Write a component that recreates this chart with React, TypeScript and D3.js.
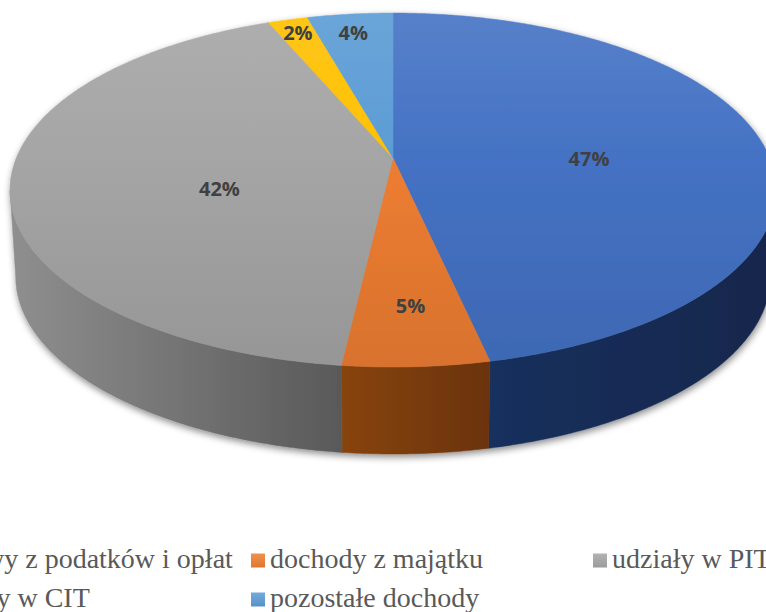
import React from "react";
import * as d3 from "d3";

// ---- data ----
const categories = [
  "wpływy z podatków i opłat",
  "dochody z majątku",
  "udziały w PIT",
  "udziały w CIT",
  "pozostałe dochody",
];
const values = [46.6, 5.2, 41.9, 2.0, 4.3];
const colors = ["#4472C4", "#ED7D31", "#A5A5A5", "#FFC000", "#5B9BD5"];
const sideColors = [
  ["#17305d", "#12274c"],
  ["#874410", "#6b330b"],
  ["#8f8f8f", "#595959"],
  ["#a07800", "#805f00"],
  ["#2f5f8c", "#264d73"],
];
// label placement: [fraction of slice angle, radius fraction]
const labelLayout = [
  [0.54, 0.52],
  [0.49, 0.75],
  [0.41, 0.48],
  [0.5, 0.89],
  [0.47, 0.85],
];

// ---- projection (perspective of a tilted disk) ----
const K = -0.1808;
const A = 376.7;
const P = 142.65;
const Q = 158;
const CX = 393;
const DEPTH = 87;
const SB = 0.985;

function proj(theta: number, r: number): [number, number] {
  const u = r * Math.sin(theta);
  const v = -r * Math.cos(theta);
  const w = 1 + K * v;
  return [CX + (A * u) / w, (P * v + Q) / w];
}
function projBottom(theta: number): [number, number] {
  const [x, y] = proj(theta, 1);
  return [CX + SB * (x - CX), y + DEPTH];
}

function sampleArc(a0: number, a1: number, f: (t: number) => [number, number]) {
  const n = Math.max(2, Math.ceil(Math.abs(a1 - a0) / 0.008));
  const pts: [number, number][] = [];
  for (let i = 0; i <= n; i++) pts.push(f(a0 + ((a1 - a0) * i) / n));
  return pts;
}

// silhouette angles
let thetaR = 0,
  thetaL = Math.PI;
{
  let maxX = -Infinity,
    minX = Infinity;
  for (let i = 0; i <= 20000; i++) {
    const t = (i / 20000) * 2 * Math.PI;
    const [x] = proj(t, 1);
    if (x > maxX) {
      maxX = x;
      thetaR = t;
    }
    if (x < minX) {
      minX = x;
      thetaL = t;
    }
  }
}

const line = d3.line();

export default function App() {
  const pie = d3
    .pie<number>()
    .sort(null)
    .startAngle(0)
    .endAngle(2 * Math.PI)
    .value((d) => d);
  const arcs = pie(values);
  const total = d3.sum(values);
  const fmt = d3.format(".0%");

  const walls = arcs
    .map((a, i) => {
      const lo = Math.max(a.startAngle, thetaR);
      const hi = Math.min(a.endAngle, thetaL);
      if (hi <= lo) return null;
      const topPts = sampleArc(lo, hi, (t) => proj(t, 1));
      const botPts = sampleArc(hi, lo, projBottom);
      const pts = [...topPts, ...botPts];
      const xs = pts.map((p) => p[0]);
      return {
        i,
        d: line(pts)! + "Z",
        x1: d3.min(xs)!,
        x2: d3.max(xs)!,
      };
    })
    .filter(Boolean) as { i: number; d: string; x1: number; x2: number }[];

  const tops = arcs.map((a, i) => {
    const pts = [proj(0, 0), ...sampleArc(a.startAngle, a.endAngle, (t) => proj(t, 1))];
    return { i, d: line(pts)! + "Z" };
  });

  const labels = arcs.map((a, i) => {
    const [f, r] = labelLayout[i];
    const t = a.startAngle + (a.endAngle - a.startAngle) * f;
    const [x, y] = proj(t, r);
    return { i, x, y, text: fmt(values[i] / total) };
  });

  const topY = proj(0, 1)[1];
  const botY = proj(Math.PI, 1)[1];

  const colW = 342;
  const col0 = 251 - colW;
  const rowBase = 568;
  const rowH = 39;

  return (
    <svg
      width={766}
      height={612}
      style={{ position: "absolute", left: 0, top: 0, background: "#fff" }}
    >
      <defs>
        <filter id="shadow" x="-10%" y="-10%" width="120%" height="130%">
          <feDropShadow dx="1" dy="3" stdDeviation="3.5" floodColor="#000" floodOpacity="0.45" />
        </filter>
        {colors.map((c, i) => (
          <linearGradient
            key={"tg" + i}
            id={"tg" + i}
            gradientUnits="userSpaceOnUse"
            x1={0}
            x2={0}
            y1={topY}
            y2={botY}
          >
            <stop offset="0" stopColor={d3.interpolateRgb(c, "#fff")(0.1)} />
            <stop offset="0.42" stopColor={c} />
            <stop offset="1" stopColor={d3.interpolateRgb(c, "#000")(0.09)} />
          </linearGradient>
        ))}
        {walls.map((w) => (
          <linearGradient
            key={"sg" + w.i}
            id={"sg" + w.i}
            gradientUnits="userSpaceOnUse"
            x1={w.x1}
            x2={w.x2}
            y1={0}
            y2={0}
          >
            <stop offset="0" stopColor={sideColors[w.i][0]} />
            <stop offset="1" stopColor={sideColors[w.i][1]} />
          </linearGradient>
        ))}
        {colors.map((c, i) => (
          <linearGradient key={"lg" + i} id={"lg" + i} x1="0" x2="0" y1="0" y2="1">
            <stop offset="0" stopColor={d3.interpolateRgb(c, "#fff")(0.15)} />
            <stop offset="1" stopColor={d3.interpolateRgb(c, "#000")(0.06)} />
          </linearGradient>
        ))}
      </defs>

      <g filter="url(#shadow)">
        {walls.map((w) => (
          <path key={"w" + w.i} d={w.d} fill={`url(#sg${w.i})`} stroke={`url(#sg${w.i})`} strokeWidth={0.5} />
        ))}
        {tops.map((t) => (
          <path key={"t" + t.i} d={t.d} fill={`url(#tg${t.i})`} stroke={`url(#tg${t.i})`} strokeWidth={0.5} />
        ))}
      </g>

      {labels.map((l) => (
        <text
          key={"l" + l.i}
          x={l.x}
          y={l.y + 7}
          textAnchor="middle"
          fontFamily="'Open Sans', Lato, sans-serif"
          fontWeight={700}
          fontSize={20}
          fill="#404040"
        >
          {l.text}
        </text>
      ))}

      {categories.map((name, i) => {
        const col = i % 3;
        const row = Math.floor(i / 3);
        const mx = col0 + col * colW;
        const base = rowBase + row * rowH;
        return (
          <g key={"leg" + i}>
            <rect x={mx} y={base - 14.5} width={14} height={14} fill={`url(#lg${i})`} />
            <text
              x={mx + 19}
              y={base}
              fontFamily="'Liberation Serif', 'Times New Roman', serif"
              fontSize={28}
              fill="#595959"
            >
              {name}
            </text>
          </g>
        );
      })}
    </svg>
  );
}
